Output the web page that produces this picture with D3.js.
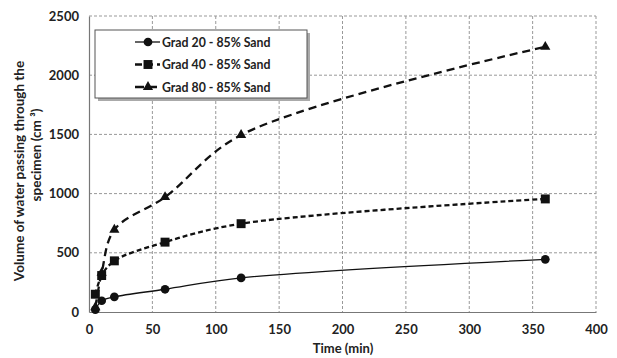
<!DOCTYPE html>
<html>
<head>
<meta charset="utf-8">
<script src="https://cdn.jsdelivr.net/npm/d3@7"></script>
<style>
  body { margin: 0; background: #fff; }
  text { font-family: Lato, "Open Sans", sans-serif; font-weight: bold; fill: #222; }
</style>
</head>
<body>
<svg width="617" height="358"></svg>
<script>
var times = [5, 10, 20, 60, 120, 360];
var grad20 = [20, 95, 128, 192, 288, 445];
var grad40 = [150, 308, 432, 590, 746, 955];
var grad80 = [40, 330, 695, 970, 1495, 2240];
var seriesNames = ['Grad 20 - 85% Sand', 'Grad 40 - 85% Sand', 'Grad 80 - 85% Sand'];
var xTicks = [0, 50, 100, 150, 200, 250, 300, 350, 400];
var yTicks = [0, 500, 1000, 1500, 2000, 2500];

var svg = d3.select('svg');
var padding = {t: 16, r: 21, b: 46, l: 89};
var chartWidth = 617 - padding.l - padding.r;
var chartHeight = 358 - padding.t - padding.b;

var chartG = svg.append('g')
    .attr('transform', 'translate(' + [padding.l, padding.t] + ')');

var xScale = d3.scaleLinear().domain([0, 400]).range([0, chartWidth]);
var yScale = d3.scaleLinear().domain([0, 2500]).range([chartHeight, 0]);

// grid
chartG.selectAll('.vgrid').data(xTicks.slice(1)).enter().append('line')
    .attr('x1', function(d) { return xScale(d); })
    .attr('x2', function(d) { return xScale(d); })
    .attr('y1', 0).attr('y2', chartHeight)
    .attr('stroke', '#999').attr('stroke-dasharray', '3,2');
chartG.selectAll('.hgrid').data(yTicks.slice(1)).enter().append('line')
    .attr('y1', function(d) { return yScale(d); })
    .attr('y2', function(d) { return yScale(d); })
    .attr('x1', 0).attr('x2', chartWidth)
    .attr('stroke', '#999').attr('stroke-dasharray', '3,2');

var xAxis = d3.axisBottom(xScale).tickValues(xTicks).tickSize(0).tickPadding(13)
    .tickFormat(d3.format('d'));
var yAxis = d3.axisLeft(yScale).tickValues(yTicks).tickSize(0).tickPadding(10)
    .tickFormat(d3.format('d'));

var gx = chartG.append('g')
    .attr('transform', 'translate(0,' + chartHeight + ')')
    .call(xAxis);
var gy = chartG.append('g').call(yAxis);
[gx, gy].forEach(function(g) {
  g.select('.domain').attr('stroke', '#777').attr('stroke-width', 1.2);
  g.selectAll('text').style('font-size', '13px').style('font-family', 'Lato, sans-serif')
    .style('font-weight', 'bold').attr('fill', '#222');
});

var line = d3.line()
    .x(function(d) { return xScale(d[0]); })
    .y(function(d) { return yScale(d[1]); })
    .curve(d3.curveCatmullRom.alpha(0.5));

var series = [
  {vals: grad20, dash: null, width: 1.3, shape: d3.symbolCircle, size: 60},
  {vals: grad40, dash: '5,3', width: 2.3, shape: d3.symbolSquare, size: 80},
  {vals: grad80, dash: '8,5', width: 2.3, shape: d3.symbolTriangle, size: 45}
];

series.forEach(function(s) {
  var pts = times.map(function(t, i) { return [t, s.vals[i]]; });
  chartG.append('path')
    .attr('d', line(pts))
    .attr('fill', 'none')
    .attr('stroke', '#111')
    .attr('stroke-width', s.width)
    .attr('stroke-dasharray', s.dash);
  chartG.selectAll(null).data(pts).enter().append('path')
    .attr('d', d3.symbol().type(s.shape).size(s.size))
    .attr('transform', function(d) { return 'translate(' + [xScale(d[0]), yScale(d[1])] + ')'; })
    .attr('fill', '#111');
});

// legend
var legend = svg.append('g').attr('transform', 'translate(95,30)');
legend.append('rect').attr('x', 3).attr('y', 3).attr('width', 212).attr('height', 68).attr('fill', '#aaa');
legend.append('rect').attr('width', 212).attr('height', 68).attr('fill', '#fff')
    .attr('stroke', '#555').attr('stroke-width', 1);
series.forEach(function(s, i) {
  var y = 12 + i * 22.5;
  legend.append('line').attr('x1', 40).attr('x2', 65).attr('y1', y).attr('y2', y)
    .attr('stroke', '#111').attr('stroke-width', s.width)
    .attr('stroke-dasharray', s.dash ? (i == 1 ? '7,4' : '9,4') : null);
  legend.append('path').attr('d', d3.symbol().type(s.shape).size(s.size))
    .attr('transform', 'translate(' + [53, y] + ')').attr('fill', '#111');
  legend.append('text').attr('x', 67).attr('y', y + 4.5)
    .style('font-size', '12.3px').text(seriesNames[i]);
});

// axis titles
svg.append('text')
    .attr('x', 343).attr('y', 353)
    .attr('text-anchor', 'middle').style('font-size', '13px')
    .text('Time (min)');
svg.append('text')
    .attr('transform', 'translate(24,171) rotate(-90)')
    .attr('text-anchor', 'middle').style('font-size', '13.5px')
    .text('Volume of water passing through the');
svg.append('text')
    .attr('transform', 'translate(41,155) rotate(-90)')
    .attr('text-anchor', 'middle').style('font-size', '13.5px')
    .text('specimen  (cm ³)');
</script>
</body>
</html>
